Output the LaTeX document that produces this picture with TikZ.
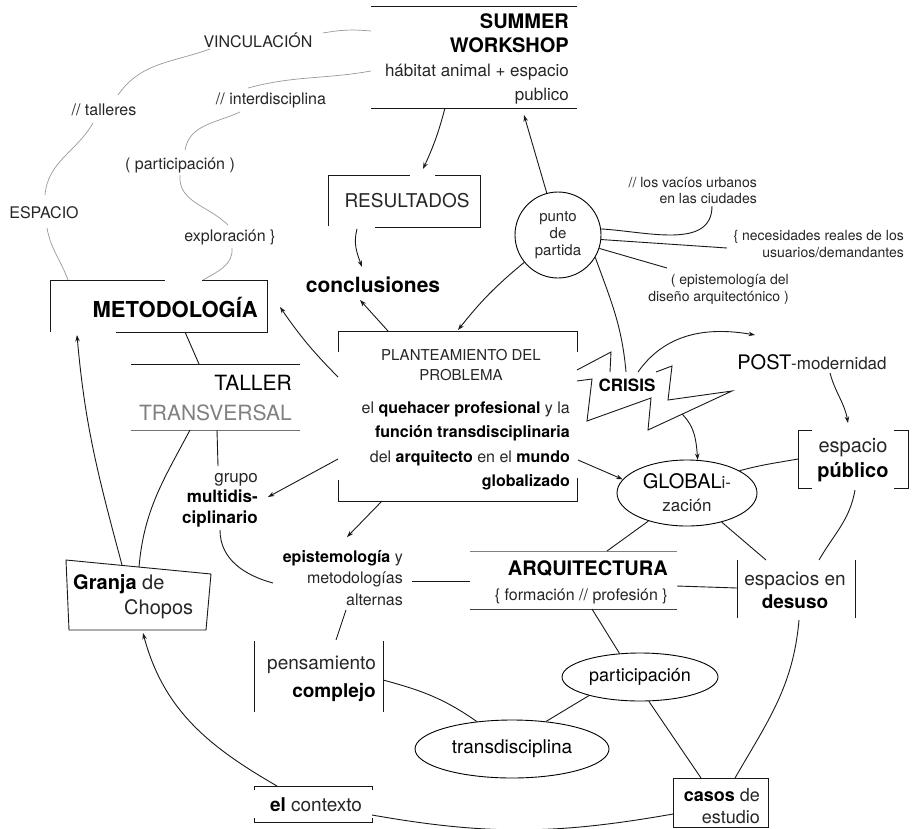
\documentclass[tikz,border=0pt]{standalone}
\usepackage{fontspec}
\setmainfont{TeX Gyre Heros}
\usetikzlibrary{arrows.meta,shapes.geometric}
\newcommand\fsz[2]{\fontsize{#1}{#2}\selectfont}
\newcommand\bk[1]{{\bfseries\color{black}#1}}
\begin{document}
\begin{tikzpicture}[x=1pt,y=-1pt,
  ln/.style={line width=0.9pt, black!90},
  gl/.style={line width=0.7pt, black!40},
  arr/.style={ln, -{Stealth[length=6.5pt,width=4.5pt]}},
  txt/.style={inner sep=0pt, text=black!85, font=\fsz{16}{20}},
  ell/.style={ellipse, draw, line width=0.9pt, inner sep=0pt},
]
\fill[white] (0,0) rectangle (918,828);
\useasboundingbox (0,0) rectangle (918,828);

% ---------- named connection points ----------
\coordinate (sumA) at (371,31);   \coordinate (sumB) at (371,71);  \coordinate (sumS) at (445,108);
\coordinate (sumP) at (524,115);
\coordinate (vincE) at (323,33);  \coordinate (vincSW) at (210,49);
\coordinate (tallN) at (118,95);  \coordinate (tallS) at (93,123);
\coordinate (espN) at (45,195);   \coordinate (espS) at (47,228);
\coordinate (metoT1) at (68,280); \coordinate (metoT2) at (203,280);
\coordinate (interE) at (248,88); \coordinate (interSW) at (240,112);
\coordinate (partN) at (185,150); \coordinate (partS) at (180,175);
\coordinate (explN) at (228,225); \coordinate (explS) at (232,248);
\coordinate (resN) at (423,169);  \coordinate (resS) at (357,229);
\coordinate (conclS) at (360,300); \coordinate (conclN) at (362,267);
\coordinate (planNW) at (388,331); \coordinate (planN) at (458,330);
\coordinate (planW1) at (338,377); \coordinate (planW2) at (338,459);
\coordinate (planS) at (382,501);  \coordinate (planE) at (578,460);
\coordinate (metoE) at (280,307);
\coordinate (grupoE) at (268,497); \coordinate (epistN) at (347,537);
\coordinate (crisisA) at (626,372); \coordinate (crisisB) at (638,372); \coordinate (crisisC) at (682,414);
\coordinate (postN) at (755,335);  \coordinate (postS) at (830,373);
\coordinate (esppubN) at (848,423); \coordinate (esppubW) at (798,459); \coordinate (esppubS) at (855,490);
\coordinate (vacS) at (712,206);   \coordinate (necW) at (727,248); \coordinate (episdW) at (667,268);
\coordinate (metoB) at (185,332);  \coordinate (tallerT) at (199,364);
\coordinate (tallerB1) at (217,430); \coordinate (tallerB2) at (190,430);
\coordinate (grupoN) at (218,466); \coordinate (grupoS) at (220,530);
\coordinate (epistW) at (273,583); \coordinate (epistE) at (412,581); \coordinate (epistS) at (346,610);
\coordinate (granjaT1) at (122,565); \coordinate (granjaT2) at (139,567); \coordinate (granjaB) at (143,633);
\coordinate (metoB2) at (77,335);
\coordinate (arqW) at (470,581); \coordinate (arqE) at (677,586); \coordinate (arqS) at (592,609); \coordinate (arqN) at (607,551);
\coordinate (desuW) at (737,588); \coordinate (desuN1) at (766,560); \coordinate (desuN2) at (819,560); \coordinate (desuS) at (799,620);
\coordinate (pensN) at (336,640); \coordinate (pensE) at (383,680);
\coordinate (ctxN) at (277,786);  \coordinate (ctxE) at (372,815);
\coordinate (casosW) at (673,814); \coordinate (casosN1) at (701,778); \coordinate (casosN2) at (735,778);

% ---------- frames ----------
\draw[ln] (371,6) -- (577,6);
\draw[ln] (371,108) -- (577,108);
\draw[ln] (328,226) -- (328,175) -- (410,175);
\draw[ln] (435,175) -- (480,175) -- (480,227) -- (375,227);
\draw[ln] (50,332) -- (50,280) -- (165,280);
\draw[ln] (202,280) -- (267,280) -- (267,332) -- (116,332);
\draw[ln] (131,364) -- (300,364);
\draw[ln, black!55] (131,430) -- (300,430);
\draw[ln] (338,352) -- (338,331) -- (577,331) -- (577,352);
\draw[ln] (338,480) -- (338,501) -- (577,501) -- (577,478);
\draw[ln, line join=miter] (577,370) -- (611,352) -- (610,372);
\draw[ln, line join=miter] (656,372) -- (672,366) -- (668,400) -- (732,391) -- (648,430) -- (651,398) -- (587,421) -- (592,379) -- (577,381);
\draw[ln] (812,430) -- (798,430) -- (798,488) -- (812,488);
\draw[ln] (894,430) -- (908,430) -- (908,488) -- (894,488);
\draw[ln, black!50] (470,551) -- (677,551);
\draw[ln, black!75] (470,609) -- (677,609);
\draw[ln] (737,560) -- (737,618);
\draw[ln] (855,560) -- (855,618);
\draw[ln] (66,560) -- (211,574) -- (206,630) -- (69,630) -- cycle;
\draw[ln] (254,641) -- (254,712);
\draw[ln] (383,641) -- (383,712);
\draw[ln] (254,790) -- (254,786) -- (372,786) -- (372,790);
\draw[ln] (254,818) -- (254,822) -- (372,822) -- (372,818);
\draw[ln] (673,778) rectangle (768,827);

% ---------- texts ----------
\node[txt, anchor=east, align=right, font=\fsz{17}{24}] (summer) at (569,59)
  {{\fsz{20}{24}\bk{SUMMER}}\\{\fsz{20}{24}\bk{WORKSHOP}}\\hábitat animal + espacio\\publico};
\node[txt] (vinc) at (258,40) {VINCULACIÓN};
\node[txt] (talleres) at (104,110) {// talleres};
\node[txt] (espacio) at (44,213) {ESPACIO};
\node[txt] (inter) at (271,100) {// interdisciplina};
\node[txt] (partic1) at (180,165) {( participación )};
\node[txt] (explor) at (230,237) {exploración \}};
\node[txt, font=\fsz{19}{23}] (result) at (407,201) {RESULTADOS};
\node[txt, font=\fsz{21}{25}\bfseries, text=black] (concl) at (373,285) {conclusiones};
\node[circle, draw, line width=0.9pt, minimum size=86pt, inner sep=0pt, align=center, text=black!85, font=\fsz{15}{17}] (punto) at (558,235) {punto\\de\\partida};
\node[txt, anchor=east, align=right, font=\fsz{14}{16}] (vacios) at (757,190) {// los vacíos urbanos\\en las ciudades};
\node[txt, anchor=east, align=right, font=\fsz{14}{17}] (neces) at (904,244) {\{ necesidades reales de los\\usuarios/demandantes};
\node[txt, anchor=east, align=right, font=\fsz{14}{17}] (episd) at (789,289) {( epistemología del\\diseño arquitectónico )};
\node[txt, anchor=east, font=\fsz{22}{26}\bfseries, text=black] (meto) at (258,307) {METODOLOGÍA};
\node[txt, align=center, font=\fsz{15}{20}] (planhead) at (461,365) {PLANTEAMIENTO DEL\\PROBLEMA};
\node[txt, anchor=east, align=right, font=\fsz{16}{24.5}] (plan) at (570,446)
  {el \bk{quehacer profesional} y la\\\bk{función transdisciplinaria}\\del \bk{arquitecto} en el \bk{mundo}\\\bk{globalizado}};
\node[txt, font=\fsz{17}{20}\bfseries, text=black] (crisis) at (627,385) {CRISIS};
\node[txt, font=\fsz{17}{20}] (post) at (812,362) {{\fsz{20}{24}\color{black}POST}-modernidad};
\node[ell, minimum width=140pt, minimum height=66pt, align=center, text=black!85, font=\fsz{17}{23}] (glob) at (687,493) {{\fsz{20}{23}\color{black}GLOBAL}i-\\zación};
\node[txt, align=center, font=\fsz{20}{25}] (esppub) at (853,460) {espacio\\\bk{público}};
\node[txt, anchor=east, align=right, font=\fsz{21}{30}] (taller) at (292,398) {{\color{black}TALLER}\\{\color{black!50}TRANSVERSAL}};
\node[txt, anchor=east, align=right, font=\fsz{17}{20.5}] (grupo) at (258,500) {grupo\\\bk{multidis-}\\\bk{ciplinario}};
\node[txt, anchor=east, align=right, font=\fsz{16}{21.5}] (epist) at (403,578) {\bk{epistemología} y\\metodologías\\alternas};
\node[txt, anchor=east, align=right, font=\fsz{16}{25}] (arq) at (668,582) {{\fsz{20}{25}\bk{ARQUITECTURA}}\\\{ formación // profesión \}};
\node[txt, align=center, font=\fsz{19}{23}] (desuso) at (795,590) {espacios en\\\bk{desuso}};
\node[txt, anchor=west, align=left, font=\fsz{20}{25}] (granja) at (73,597) {\bk{Granja} de\\\hspace*{51pt}Chopos};
\node[txt, anchor=east, align=right, font=\fsz{19}{28}] (pens) at (376,679) {pensamiento\\\bk{complejo}};
\node[ell, minimum width=156pt, minimum height=48pt, text=black, font=\fsz{18}{22}] (partic) at (640,677) {participación};
\node[ell, minimum width=194pt, minimum height=58pt, text=black, font=\fsz{19}{22}] (trans) at (512,749) {transdisciplina};
\node[txt, font=\fsz{19}{22}] (contexto) at (316,805) {\bk{el} contexto};
\node[txt, anchor=east, align=right, font=\fsz{18}{22}] (casos) at (760,806) {\bk{casos} de\\estudio};

% ---------- gray connectors ----------
\draw[gl] (vincE) to[out=10, in=175] (sumA);
\draw[gl] (vincSW) to[out=200, in=55] (tallN);
\draw[gl] (tallS) to[out=-120, in=85] (espN);
\draw[gl] (espS) to[out=-80, in=110] (metoT1);
\draw[gl] (sumB) to[out=190, in=15] (interE);
\draw[gl] (interSW) to[out=205, in=80] (partN);
\draw[gl] (partS) to[out=-95, in=135] (explN);
\draw[gl] (explS) to[out=-85, in=30] (metoT2);

% ---------- black connectors ----------
\draw[arr] (sumS) to[bend left=5] (resN);
\draw[arr] (resS) to[out=-105, in=110] (conclN);
\draw[arr] (punto.105) -- (sumP);
\draw[arr] (punto.219) to[bend right=6] (planN);
\draw[ln] (punto.8) to[out=-3, in=-90] (vacS);
\draw[ln] (punto.-6) -- (necW);
\draw[ln] (punto.-18) -- (episdW);
\draw[ln] (punto.-31) to[out=-70, in=95] (crisisA);
\draw[arr] (planNW) -- (conclS);
\draw[arr] (planW1) to[bend left=5] (metoE);
\draw[arr] (planW2) -- (grupoE);
\draw[arr] (planS) -- (epistN);
\draw[arr] (planE) -- (glob.168);
\draw[arr] (crisisB) to[out=55, in=170] (postN);
\draw[arr] (crisisC) to[out=-45, in=95] (glob.72);
\draw[arr] (postS) to[out=-75, in=100] (esppubN);
\draw[ln] (glob.23) to[out=15, in=190] (esppubW);
\draw[ln] (glob.216) -- (arqN);
\draw[ln] (glob.-40) -- (desuN1);
\draw[ln] (esppubS) to[out=-100, in=60] (desuN2);
\draw[ln] (arqE) -- (desuW);
\draw[ln] (metoB) -- (tallerT);
\draw[ln] (tallerB1) -- (grupoN);
\draw[ln] (tallerB2) to[out=-118, in=85] (granjaT2);
\draw[arr] (granjaT1) to[out=105, in=-85] (metoB2);
\draw[ln] (grupoS) to[out=-90, in=165] (epistW);
\draw[ln] (epistE) -- (arqW);
\draw[ln] (epistS) -- (pensN);
\draw[ln] (pensE) to[out=-15, in=145] (trans.142);
\draw[ln] (arqS) -- (partic.131);
\draw[ln] (partic.200) -- (trans.39);
\draw[ln] (partic.-70) -- (casosN1);
\draw[ln] (desuS) to[out=-95, in=60] (casosN2);
\draw[ln] (ctxE) to[out=-10, in=190] (casosW);
\draw[arr] (ctxN) to[out=150, in=-75] (granjaB);
\end{tikzpicture}
\end{document}
